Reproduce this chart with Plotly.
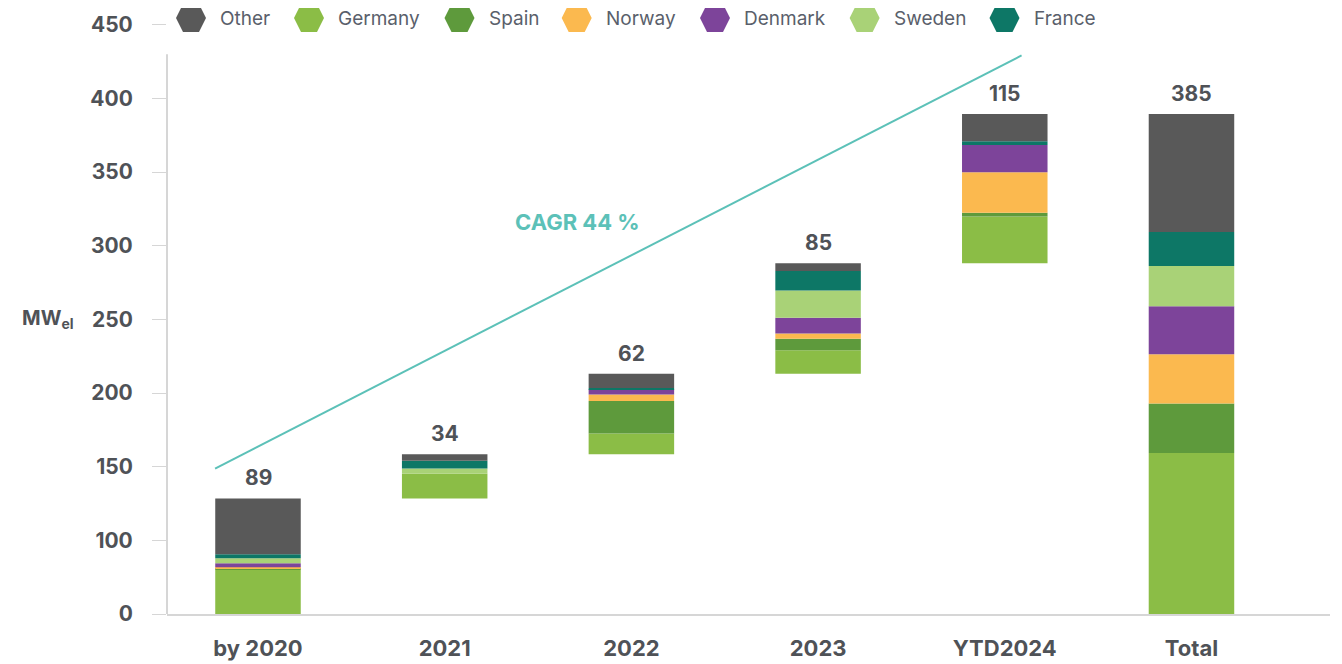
import plotly.graph_objects as go

categories = ["by 2020", "2021", "2022", "2023", "YTD2024", "Total"]
bar_totals = [89, 34, 62, 85, 115, 385]

# segment sizes per country (MW), one value per bar
germany = [34, 19, 16, 18, 36, 124]
spain = [1, 0, 25, 9, 3, 38]
norway = [1, 0, 5, 4, 31, 38]
denmark = [3, 0, 4, 12, 21, 37]
sweden = [4, 4, 0, 21, 0, 31]
france = [3, 6, 1, 15, 3, 26]
other = [43, 5, 11, 6, 21, 91]

y_tick_labels = ["0", "100", "150", "200", "250", "300", "350", "400", "450"]
cagr_text = "CAGR 44 %"
cagr_x = [-0.23, 4.09]
cagr_y = [112, 430]

colors = {
    "Other": "#595959",
    "Germany": "#8bbd46",
    "Spain": "#5e9a3c",
    "Norway": "#fbb94f",
    "Denmark": "#7d449a",
    "Sweden": "#a9d277",
    "France": "#0d7766",
}
legend_order = ["Other", "Germany", "Spain", "Norway", "Denmark", "Sweden", "France"]
stack_order = [("Germany", germany), ("Spain", spain), ("Norway", norway),
               ("Denmark", denmark), ("Sweden", sweden), ("France", france),
               ("Other", other)]

FONT = "Inter"
LABEL_GREY = "#4f5257"
TEAL = "#5cc1b8"
AXIS_GREY = "#d6d6d6"

# the page adds an 8px body margin, so screen positions are shifted by it
OFF = 8
L, R, T, B = 167 - OFF, 1330 - OFF, 23 - OFF, 614 - OFF
def px_x(px):
    return (px - OFF - L) / (R - L)
def px_y(py):
    return (B - (py - OFF)) / (B - T)

xs = list(range(len(categories)))

# waterfall offsets: each year starts where the previous one ended, total from 0
offsets = []
run = 0
for cat, tot in zip(categories, bar_totals):
    if cat == "Total":
        offsets.append(0)
    else:
        offsets.append(run)
        run += tot

fig = go.Figure()

cum = list(offsets)
for name, vals in stack_order:
    fig.add_trace(go.Bar(x=xs, y=vals, base=list(cum), width=0.458, name=name,
                         marker=dict(color=colors[name], line=dict(width=0)),
                         showlegend=False, hoverinfo="skip"))
    cum = [c + v for c, v in zip(cum, vals)]

# CAGR trend line
fig.add_trace(go.Scatter(x=cagr_x, y=cagr_y, mode="lines", showlegend=False,
                         line=dict(color=TEAL, width=2), hoverinfo="skip"))

annotations = []
for i, (off, tot) in enumerate(zip(offsets, bar_totals)):
    annotations.append(dict(x=i, y=off + tot, text=str(tot), showarrow=False,
                            yanchor="bottom", yshift=6,
                            font=dict(family=FONT, size=21, color=LABEL_GREY, weight=700)))

annotations.append(dict(x=1.714, y=302, text=cagr_text, showarrow=False,
                        font=dict(family=FONT, size=22, color=TEAL, weight=700)))

tick_step = 56.7
tickvals = [i * tick_step for i in range(len(y_tick_labels))]

annotations.append(dict(xref="paper", x=0, xanchor="right", xshift=-(167 - 76),
                        yref="y", y=tickvals[4], yanchor="middle", showarrow=False,
                        text="MW<sub>el</sub>",
                        font=dict(family=FONT, size=20, color=LABEL_GREY, weight=700)))

shapes = [
    # y axis line stops below the legend
    dict(type="line", xref="paper", x0=0, x1=0, yref="y", y0=0, y1=431,
         line=dict(color=AXIS_GREY, width=2)),
    # pale strip at the right edge of the page
    dict(type="rect", xref="paper", x0=px_x(1336), x1=px_x(1350),
         yref="paper", y0=px_y(672), y1=px_y(0), fillcolor="#edf2f6",
         line=dict(width=0), layer="below"),
]

# hexagon legend along the top
legend_px = [191, 309, 459.5, 576.7, 715, 864.6, 1004.5]
hexagon = "M-15,0 L-8,-14 L8,-14 L15,0 L8,14 L-8,14 Z"
for name, cx in zip(legend_order, legend_px):
    shapes.append(dict(type="path", path=hexagon,
                       xref="paper", xsizemode="pixel", xanchor=px_x(cx),
                       yref="paper", ysizemode="pixel", yanchor=px_y(18),
                       fillcolor=colors[name], line=dict(width=0)))
    annotations.append(dict(xref="paper", x=px_x(cx + 27), xanchor="left",
                            yref="paper", y=px_y(19), yanchor="middle",
                            text=name, showarrow=False,
                            font=dict(family=FONT, size=19, color="#5a5f6b")))

fig.update_layout(
    width=1342, height=664,
    margin=dict(l=L, r=1342 - R, t=T, b=664 - B),
    barmode="overlay",
    plot_bgcolor="white", paper_bgcolor="white",
    showlegend=False,
    annotations=annotations,
    shapes=shapes,
    xaxis=dict(range=[-0.4874, 5.742], tickvals=xs, ticktext=categories,
               showline=True, linecolor=AXIS_GREY, linewidth=2, ticks="",
               showgrid=False, zeroline=False, ticklabelstandoff=14, automargin=False,
               tickfont=dict(family=FONT, size=22, color=LABEL_GREY, weight=700)),
    yaxis=dict(range=[0, 455], tickvals=tickvals, ticktext=y_tick_labels,
               ticks="outside", ticklen=14, tickcolor=AXIS_GREY, tickwidth=1,
               showline=False, showgrid=False, zeroline=False, ticklabelstandoff=15,
               automargin=False,
               tickfont=dict(family=FONT, size=21, color=LABEL_GREY, weight=700)),
)

fig.write_html("out.html")
